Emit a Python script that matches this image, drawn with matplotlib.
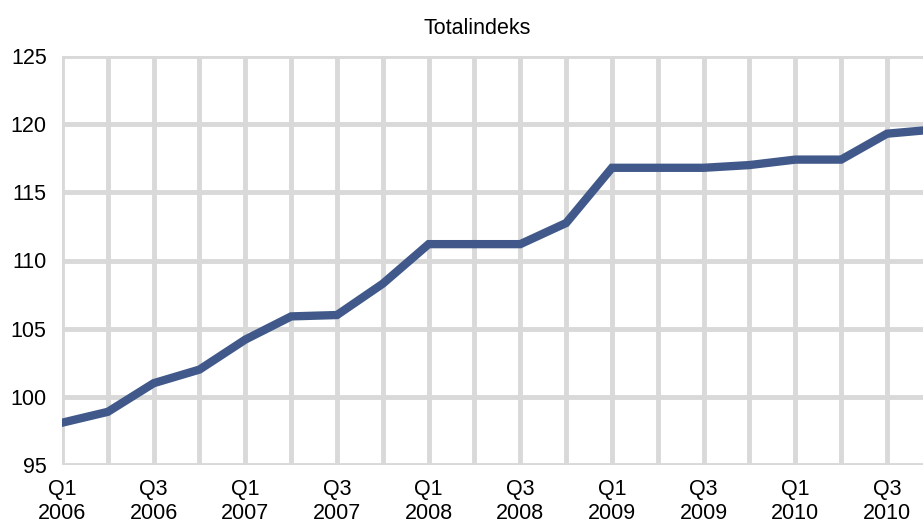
import matplotlib
matplotlib.use("Agg")
import matplotlib.pyplot as plt

quarters = ["Q1", "Q2", "Q3", "Q4"] * 5
years = [y for y in range(2006, 2011) for _ in range(4)]
values = [98.1, 98.9, 101.0, 102.0, 104.2, 105.9, 106.0, 108.3,
          111.2, 111.2, 111.2, 112.75, 116.8, 116.8, 116.8, 117.0,
          117.4, 117.4, 119.3, 119.6]
yticks = [95, 100, 105, 110, 115, 120, 125]

plt.rcParams['font.family'] = ['Liberation Sans', 'DejaVu Sans']

fig = plt.figure(figsize=(9.23, 5.26), dpi=100)
ax = fig.add_axes([62 / 923, 1 - 465 / 526, 1 - 62 / 923, (465 - 56) / 526])

x = list(range(len(values)))
ax.plot(x, values, color='#41598a', lw=6, solid_joinstyle='miter', zorder=3)

labels = [f"{q}\n{y}" if q in ("Q1", "Q3") else "" for q, y in zip(quarters, years)]
ax.set_xticks(x)
ax.set_xticklabels(labels, fontsize=15.5, linespacing=1.2)
ax.set_yticks(yticks)
ax.set_yticklabels([str(t) for t in yticks], fontsize=15.5)
ax.set_xlim(0, (923 - 62) / 45.83)
ax.set_ylim(95, 125)

ax.grid(True, color='#d9d9d9', lw=3.5, zorder=1)
ax.set_axisbelow(True)
ax.tick_params(length=0)
ax.tick_params(axis='x', pad=10)
ax.tick_params(axis='y', pad=11)
for s in ax.spines.values():
    s.set_visible(False)

fig.text(477 / 923, 1 - 28 / 526, "Totalindeks", ha='center', va='center', fontsize=15.5)

fig.savefig("out.png", dpi=100)
